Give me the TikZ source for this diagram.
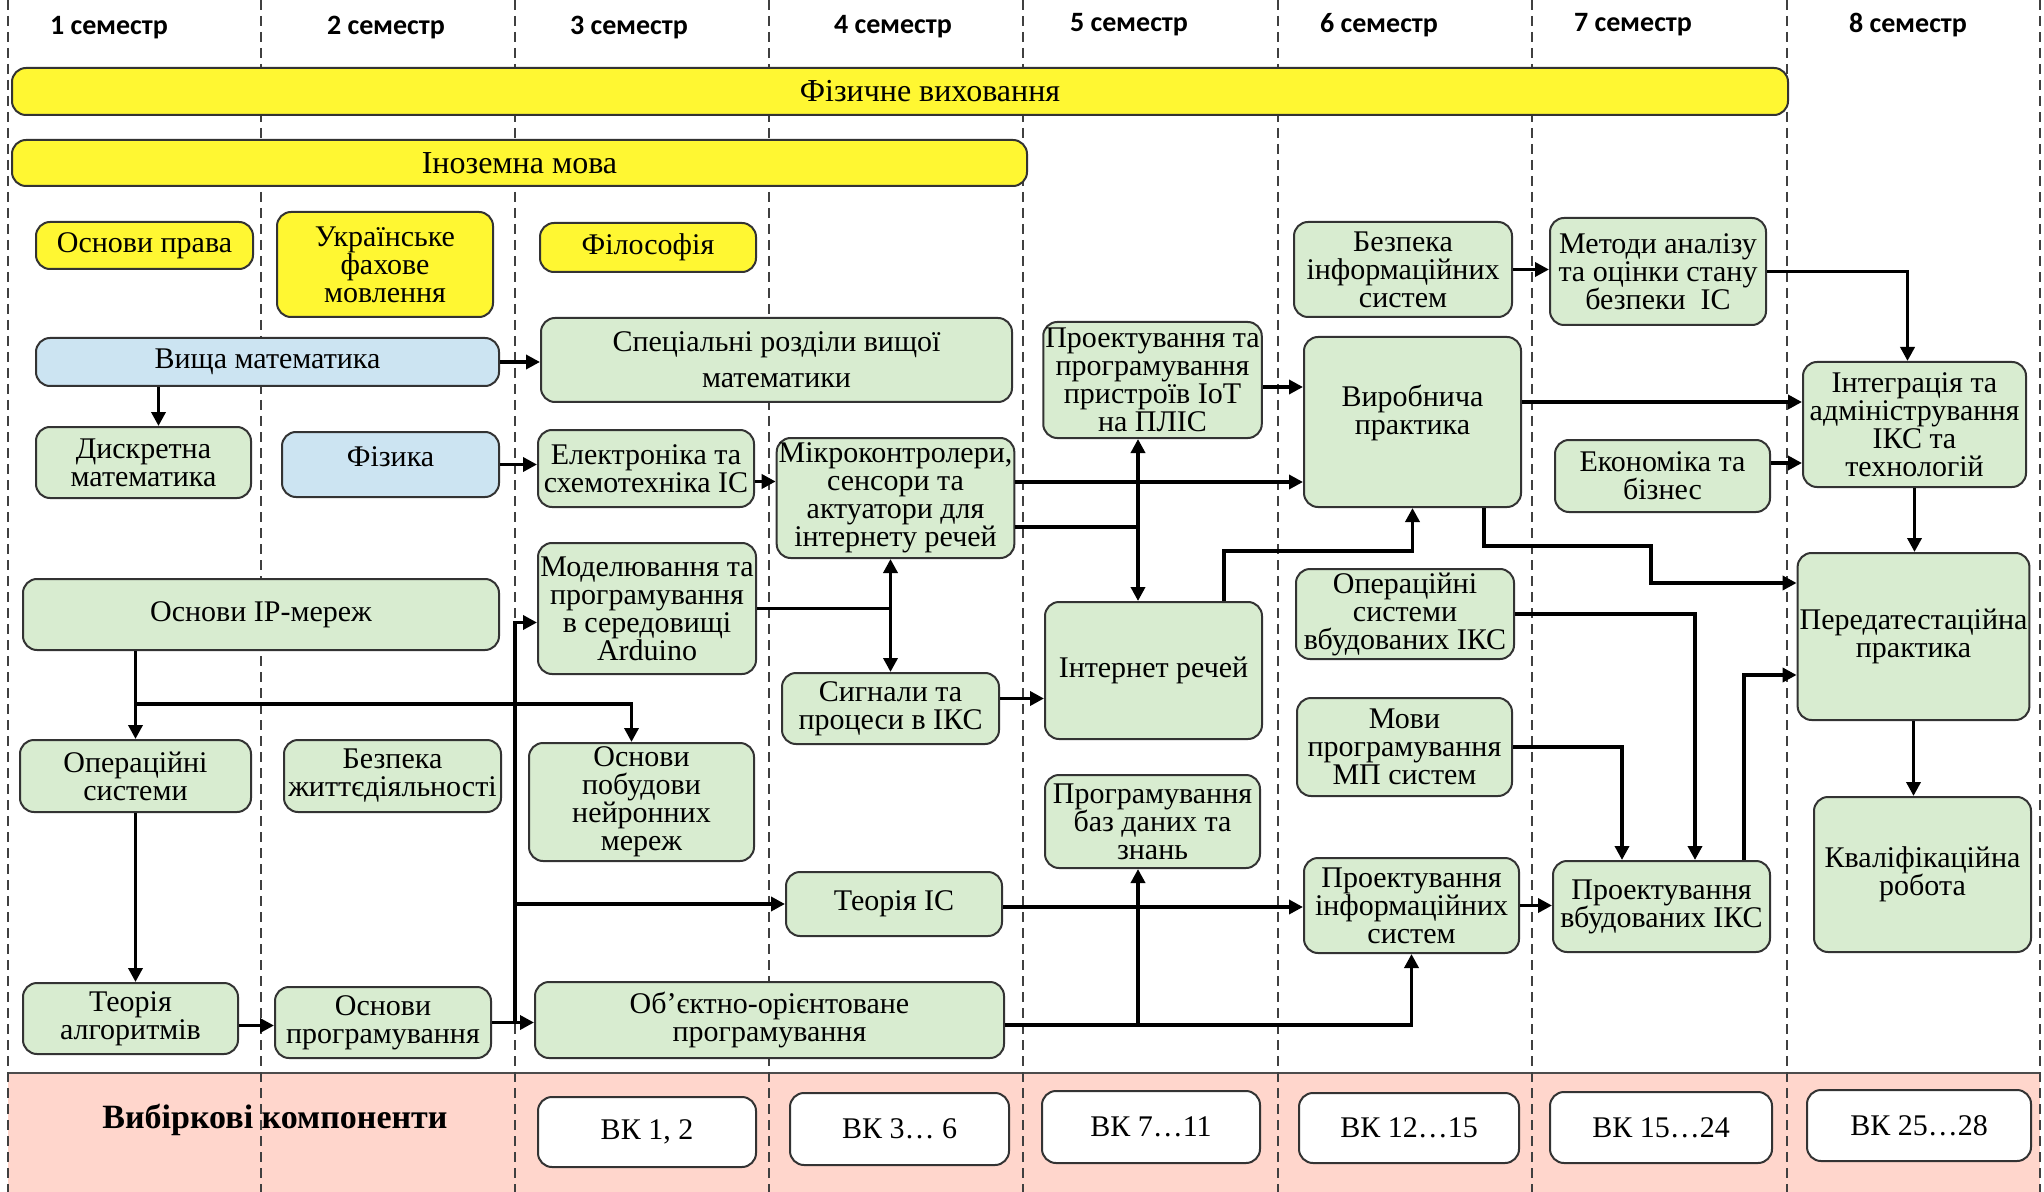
\documentclass[tikz,border=0pt]{standalone}
\usepackage{fontspec}
\setmainfont{Liberation Serif}
\newfontfamily\hdrfont{Carlito}
\usetikzlibrary{calc,arrows.meta}
\definecolor{yel}{RGB}{255,247,50}
\definecolor{grn}{RGB}{216,236,208}
\definecolor{blu}{RGB}{204,228,242}
\definecolor{pnk}{RGB}{255,214,204}
\newcommand\mkbox[7]{\node[#6, minimum width={(#4-#2)*0.5pt}, minimum height={(#5-#3)*0.5pt}] (#1) at ({(#2+#4)/2},{(#3+#5)/2}) {#7};}
\tikzset{
  base/.style={draw=black!80, line width=1pt, rounded corners=7pt, inner sep=1pt, align=center, font=\fontsize{15}{14}\selectfont},
  ybox/.style={base, fill=yel},
  ybar/.style={base, fill=yel, font=\fontsize{16}{16}\selectfont},
  gbox/.style={base, fill=grn},
  bbox/.style={base, fill=blu},
  wbox/.style={base, fill=white},
  hdr/.style={font=\hdrfont\bfseries\fontsize{14}{16}\selectfont},
  sep/.style={draw=black!75, line width=0.6pt, dash pattern=on 5pt off 3pt},
  ln/.style={line width=1.8pt},
  arr/.style={ln, -{Triangle[length=7pt,width=7pt]}},
  arrtwo/.style={ln, {Triangle[length=7pt,width=7pt]}-{Triangle[length=7pt,width=7pt]}}
}
\begin{document}
\begin{tikzpicture}[x=0.5pt,y=-0.5pt]
\useasboundingbox (0,0) rectangle (2044,1192);
% band
\fill[pnk] (8,1073) rectangle (2040,1192);
\draw[line width=1pt, black!70] (8,1073) -- (2040,1073);
% separators
\foreach \x in {8,261,515,769,1023,1278,1532,1787,2040}
  \draw[sep] (\x,0) -- (\x,1192);
% headers
\node[hdr] (h1) at (109,28) {1 семестр};
\node[hdr] (h2) at (386,28) {2 семестр};
\node[hdr] (h3) at (629,28) {3 семестр};
\node[hdr] (h4) at (893,27) {4 семестр};
\node[hdr] (h5) at (1129,25) {5 семестр};
\node[hdr] (h6) at (1379,25) {6 семестр};
\node[hdr] (h7) at (1633,25) {7 семестр};
\node[hdr] (h8) at (1908,25) {8 семестр};
% yellow
\mkbox{fv}{12}{68}{1788}{115}{ybar}{\hspace*{30pt}Фізичне виховання}
\mkbox{im}{12}{140}{1027}{186}{ybar}{Іноземна мова}
\mkbox{op}{36}{222}{253}{269}{ybox}{Основи права}
\mkbox{ufm}{277}{212}{493}{317}{ybox}{Українське\\фахове\\мовлення}
\mkbox{fil}{540}{223}{756}{272}{ybox}{Філософія}
% blue
\mkbox{vm}{36}{338}{499}{386}{bbox}{Вища математика}
\mkbox{fiz}{282}{432}{499}{497}{bbox}{Фізика\\[-6pt]\mbox{}}
% green
\mkbox{srvm}{541}{318}{1012}{402}{gbox,font=\fontsize{15}{18}\selectfont}{Спеціальні розділи вищої\\математики}
\mkbox{dm}{36}{427}{251}{498}{gbox}{Дискретна\\математика}
\mkbox{el}{538}{430}{754}{507}{gbox}{Електроніка та\\схемотехніка ІС}
\mkbox{mk}{787}{438}{1004}{558}{gbox}{Мікроконтролери,\\сенсори та\\актуатори для\\інтернету речей}
\mkbox{mod}{538}{543}{756}{674}{gbox}{Моделювання та\\програмування\\в середовищі\\Arduino}
\mkbox{ip}{23}{579}{499}{650}{gbox}{Основи IP-мереж}
\mkbox{os}{20}{740}{251}{812}{gbox}{Операційні\\системи}
\mkbox{bzh}{284}{740}{501}{812}{gbox}{Безпека\\життєдіяльності}
\mkbox{nn}{529}{743}{754}{861}{gbox}{Основи\\побудови\\нейронних\\мереж}
\mkbox{sig}{782}{673}{999}{744}{gbox}{Сигнали та\\процеси в ІКС}
\mkbox{tis}{786}{872}{1002}{936}{gbox}{Теорія ІС}
\mkbox{ta}{23}{983}{238}{1054}{gbox}{Теорія\\алгоритмів}
\mkbox{opr}{275}{987}{491}{1058}{gbox}{Основи\\програмування}
\mkbox{oop}{535}{982}{1004}{1058}{gbox}{Об'єктно-орієнтоване\\програмування}
\mkbox{iot}{1045}{322}{1260}{438}{gbox}{Проектування та\\програмування\\пристроїв IoT\\на ПЛІС}
\mkbox{ir}{1045}{602}{1262}{739}{gbox}{Інтернет речей}
\mkbox{pbd}{1045}{775}{1260}{868}{gbox}{Програмування\\баз даних та\\знань}
\mkbox{bis}{1294}{222}{1512}{317}{gbox}{Безпека\\інформаційних\\систем}
\mkbox{vp}{1304}{337}{1521}{507}{gbox}{Виробнича\\практика\\[-2pt]\mbox{}}
\mkbox{osv}{1296}{569}{1514}{659}{gbox}{Операційні\\системи\\вбудованих ІКС}
\mkbox{mov}{1297}{698}{1512}{796}{gbox}{Мови\\програмування\\МП систем}
\mkbox{pis}{1304}{858}{1519}{953}{gbox}{Проектування\\інформаційних\\систем}
\mkbox{man}{1550}{218}{1766}{325}{gbox}{Методи аналізу\\та оцінки стану\\безпеки\ \ ІС}
\mkbox{ek}{1555}{440}{1770}{512}{gbox}{Економіка та\\бізнес}
\mkbox{pvb}{1553}{861}{1770}{952}{gbox}{Проектування\\вбудованих ІКС}
\mkbox{int}{1803}{362}{2026}{487}{gbox}{Інтеграція та\\адміністрування\\ІКС та\\технологій}
\mkbox{pp}{1804}{553}{2023}{720}{gbox}{Передатестаційна\\практика}
\mkbox{kr}{1814}{797}{2031}{952}{gbox}{Кваліфікаційна\\робота}
% elective
\node[font=\fontsize{17}{20}\selectfont\bfseries] (vkl) at (275,1120) {Вибіркові компоненти};
\mkbox{vka}{538}{1097}{756}{1167}{wbox}{ВК 1, 2}
\mkbox{vkb}{790}{1093}{1009}{1165}{wbox}{ВК 3… 6}
\mkbox{vkc}{1042}{1091}{1260}{1163}{wbox}{ВК 7…11}
\mkbox{vkd}{1299}{1093}{1519}{1163}{wbox}{ВК 12…15}
\mkbox{vke}{1550}{1092}{1772}{1163}{wbox}{ВК 15…24}
\mkbox{vkf}{1807}{1090}{2031}{1161}{wbox}{ВК 25…28}
% helper coordinates
\coordinate (busa) at (515,0);
\coordinate (busb) at (1138,0);
\coordinate (modin) at ($(mod.west)+(0,14)$);
\coordinate (dmtop) at ($(dm.north)+(15,0)$);
\coordinate (elr) at ($(el.east)+(0,13)$);
\coordinate (tar) at ($(ta.east)+(0,7)$);
\coordinate (ipj) at ($(os.north)+(0,-35)$);
\coordinate (nnt) at ($(nn.north)+(-10,0)$);
\coordinate (sigr) at ($(sig.east)+(0,-10)$);
\coordinate (mka) at ($(mk.east)+(0,-16)$);
\coordinate (mkb) at ($(mk.east)+(0,29)$);
\coordinate (iotr) at ($(iot.east)+(0,7)$);
\coordinate (irt) at ($(ir.north)+(70.5,0)$);
\coordinate (vpbj) at ($(vp.south)+(0,43)$);
\coordinate (oopr) at ($(oop.east)+(0,5)$);
\coordinate (tisr) at ($(tis.east)+(0,3)$);
\coordinate (intin) at ($(int.north)+(-7,0)$);
\coordinate (vpr) at ($(vp.east)+(0,-20)$);
\coordinate (ekr) at ($(ek.east)+(0,-13)$);
\coordinate (vpb) at ($(vp.south)+(71.5,0)$);
\coordinate (ppa) at ($(pp.west)+(0,-53.5)$);
\coordinate (ppb) at ($(pp.west)+(0,38.5)$);
\coordinate (pvba) at ($(pvb.north)+(33.5,0)$);
\coordinate (pvbb) at ($(pvb.north)+(-39.5,0)$);
\coordinate (pvbc) at ($(pvb.north)+(82.5,0)$);
% connectors
\draw[arr] (vm.east) -- (vm.east -| srvm.west);
\draw[arr] (dmtop |- vm.south) -- (dmtop);
\draw[arr] (fiz.east) -- (fiz.east -| el.west);
\draw[arr] (elr) -- (elr -| mk.west);
\draw[arr] (opr.east) -- (opr.east -| oop.west);
\draw[arr] (busa |- opr.east) |- (modin);
\draw[arr] (busa |- tis.west) -- (tis.west);
\draw[arr] (os.north |- ip.south) -- (os.north);
\draw[arr] (ipj) -| (nnt);
\draw[arr] (os.south) -- (os.south |- ta.north);
\draw[arr] (tar) -- (tar -| opr.west);
\draw[arrtwo] (sig.north |- mk.south) -- (sig.north);
\draw[ln] (mod.east) -- (mod.east -| sig.north);
\draw[arr] (sigr) -- (sigr -| ir.west);
\draw[arr] (mka) -- (mka -| vp.west);
\draw[ln] (mkb) -- (mkb -| busb);
\draw[arrtwo] (busb |- iot.south) -- (busb |- ir.north);
\draw[arr] (iotr) -- (iotr -| vp.west);
\draw[arr] (irt) |- (vpbj) -- (vp.south);
\draw[arr] (oopr) -| (pis.south);
\draw[arr] (busb |- oopr) -- (busb |- pbd.south);
\draw[arr] (tisr) -- (tisr -| pis.west);
\draw[arr] (pis.east) -- (pis.east -| pvb.west);
\draw[arr] (bis.east) -- (bis.east -| man.west);
\draw[arr] (man.east) -| (intin);
\draw[arr] (vpr) -- (vpr -| int.west);
\draw[arr] (ekr) -- (ekr -| int.west);
\draw[arr] (vpb) -- ++(0,38) -- ++(167,0) |- (ppa);
\draw[arr] (int.south) -- (int.south |- pp.north);
\draw[arr] (pp.south) -- (pp.south |- kr.north);
\draw[arr] (osv.east) -| (pvba);
\draw[arr] (mov.east) -| (pvbb);
\draw[arr] (pvbc) |- (ppb);
\end{tikzpicture}
\end{document}
